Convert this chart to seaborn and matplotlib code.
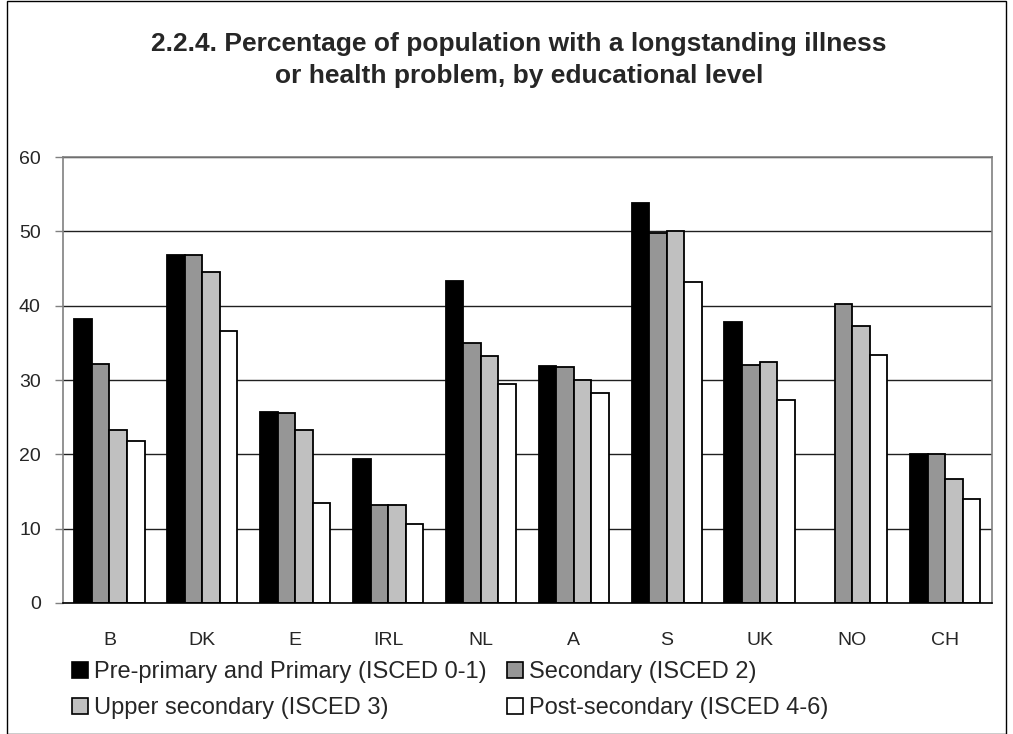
import numpy as np
import pandas as pd
import matplotlib
matplotlib.use('Agg')
import matplotlib.pyplot as plt
import matplotlib.patches as mpatches
import seaborn as sns

# Values
countries = ['B', 'DK', 'E', 'IRL', 'NL', 'A', 'S', 'UK', 'NO', 'CH']
levels = ['Pre-primary and Primary (ISCED 0-1)', 'Secondary (ISCED 2)',
          'Upper secondary (ISCED 3)', 'Post-secondary (ISCED 4-6)']
primary = [38.2, 46.8, 25.7, 19.4, 43.3, 31.9, 53.8, 37.8, np.nan, 20.0]
secondary = [32.2, 46.8, 25.6, 13.2, 35.0, 31.8, 49.8, 32.0, 40.2, 20.0]
upper_secondary = [23.3, 44.6, 23.3, 13.2, 33.3, 30.0, 50.1, 32.4, 37.3, 16.7]
post_secondary = [21.8, 36.6, 13.4, 10.6, 29.5, 28.2, 43.2, 27.3, 33.4, 14.0]

df = pd.DataFrame({'Country': countries,
                   levels[0]: primary,
                   levels[1]: secondary,
                   levels[2]: upper_secondary,
                   levels[3]: post_secondary})
long_df = df.melt(id_vars='Country', var_name='Level', value_name='Percent')

colors = ['#000000', '#969696', '#c0c0c0', '#ffffff']

sns.set_style('white')
plt.rcParams['font.family'] = ['Liberation Sans', 'DejaVu Sans']

fig = plt.figure(figsize=(10.13, 7.34), dpi=100)
ax = fig.add_axes([0.0622, 0.1785, 0.9168, 0.6075])

sns.barplot(data=long_df, x='Country', y='Percent', hue='Level', hue_order=levels,
            order=countries, palette=colors, width=0.755, edgecolor='black',
            linewidth=1.3, saturation=1, ax=ax, legend=False)

ax.set_ylim(0, 60)
ax.set_xlim(-0.5, len(countries) - 0.5)
ax.set_yticks(range(0, 61, 10))
ax.yaxis.grid(True, color='#202020', linewidth=1)
ax.set_axisbelow(True)
ax.set_xlabel('')
ax.set_ylabel('')

for side in ['top', 'right', 'left']:
    ax.spines[side].set_color('#808080')
    ax.spines[side].set_linewidth(1.2)
ax.spines['bottom'].set_color('black')
ax.spines['bottom'].set_linewidth(1.2)

# category separators on x axis
ax.set_xticks(np.arange(-0.5, len(countries), 1.0), minor=True)
ax.tick_params(axis='x', which='major', length=0, pad=21, labelsize=14)
ax.tick_params(axis='x', which='minor', length=6, width=1, color='black', direction='out')
ax.tick_params(axis='y', length=6, width=1, color='#808080', direction='out',
               labelsize=14, pad=10)
ax.tick_params(axis='both', bottom=True, left=True)

fig.text(0.5125, 1 - 51 / 734, '2.2.4. Percentage of population with a longstanding illness',
         ha='center', va='baseline', fontsize=19, fontweight='bold')
fig.text(0.5125, 1 - 83 / 734, 'or health problem, by educational level',
         ha='center', va='baseline', fontsize=19, fontweight='bold')

# legend filled row by row
order = [0, 2, 1, 3]
handles = [mpatches.Patch(facecolor=colors[i], edgecolor='black', linewidth=1.2) for i in order]
labels = [levels[i] for i in order]
fig.legend(handles, labels, ncol=2, loc='center left', bbox_to_anchor=(72 / 1013, 1 - 690 / 734),
           frameon=False, fontsize=17, handlelength=0.68, handleheight=0.68,
           handletextpad=0.25, columnspacing=0.85, labelspacing=0.6,
           borderpad=0, borderaxespad=0)

fig.patches.append(mpatches.Rectangle((7 / 1013, 0.5 / 734), 999 / 1013, 733 / 734,
                                      transform=fig.transFigure, fill=False,
                                      edgecolor='black', linewidth=1))

fig.savefig('out.png', dpi=100)
